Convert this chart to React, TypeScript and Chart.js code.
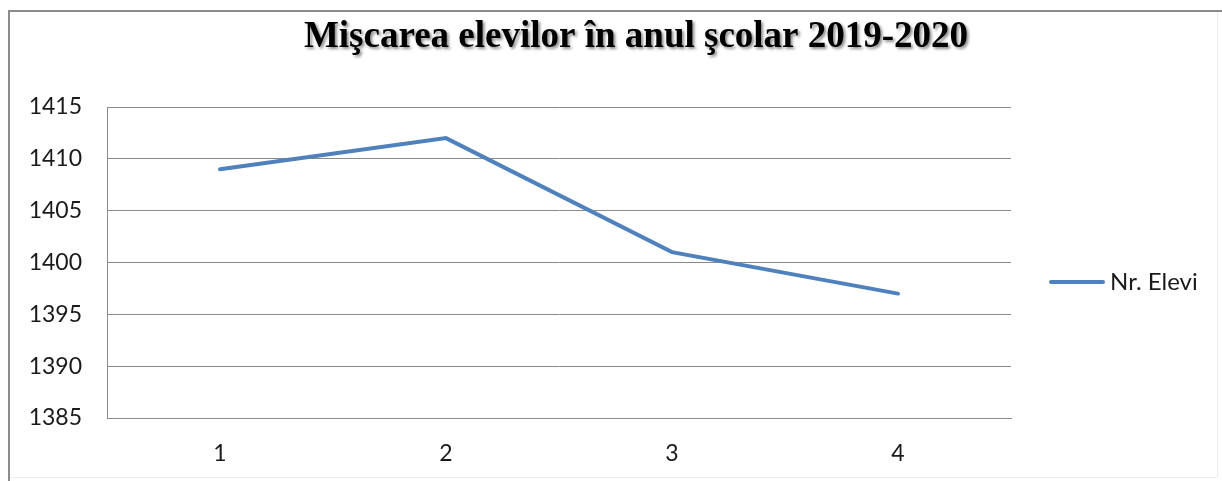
import React, { useEffect, useRef } from "react";
import { Chart, registerables } from "chart.js";

Chart.register(...registerables);

const TITLE = "Mişcarea elevilor în anul şcolar 2019-2020";
const categories = ["1", "2", "3", "4"];
const seriesLabel = "Nr. Elevi";
const seriesValues = [1409, 1412, 1401, 1397];
const yMin = 1385;
const yMax = 1415;
const yStep = 5;

const LINE_COLOR = "#4F81BD";
const GRID_COLOR = "#8a8a8a";
const TICK_FONT = "Lato";

const decorPlugin = {
  id: "decor",
  beforeDraw(chart: any) {
    const ctx = chart.ctx;
    ctx.save();
    ctx.fillStyle = "#ffffff";
    ctx.fillRect(0, 0, chart.width, chart.height);
    ctx.restore();
  },
  afterDraw(chart: any) {
    const ctx = chart.ctx;
    ctx.save();
    // frame
    ctx.fillStyle = "#8c8c8c";
    ctx.fillRect(8, 10, chart.width - 8, 2);
    ctx.fillRect(8, 10, 2, chart.height - 10);
    ctx.fillStyle = "#ececec";
    ctx.fillRect(1217, 12, 1, chart.height - 16);
    ctx.fillRect(10, 477, 1207, 1);
    // title
    ctx.font = "bold 37px 'Liberation Serif'";
    ctx.textAlign = "center";
    ctx.textBaseline = "middle";
    ctx.shadowColor = "rgba(0,0,0,0.45)";
    ctx.shadowBlur = 3;
    ctx.shadowOffsetX = 2;
    ctx.shadowOffsetY = 2;
    ctx.fillStyle = "#000000";
    ctx.fillText(TITLE, 636, 37);
    ctx.shadowColor = "transparent";
    // legend
    const ds = chart.data.datasets[0];
    const ly = 282;
    ctx.strokeStyle = ds.borderColor;
    ctx.lineWidth = 4;
    ctx.lineCap = "round";
    ctx.beginPath();
    ctx.moveTo(1051, ly);
    ctx.lineTo(1103, ly);
    ctx.stroke();
    ctx.font = `24px ${TICK_FONT}`;
    ctx.textAlign = "left";
    ctx.fillStyle = "#1a1a1a";
    ctx.fillText(ds.label, 1110, ly);
    ctx.restore();
  },
};

export default function App() {
  const ref = useRef<HTMLCanvasElement | null>(null);
  useEffect(() => {
    if (!ref.current) return;
    const chart = new Chart(ref.current, {
      type: "line",
      data: {
        labels: categories,
        datasets: [
          {
            label: seriesLabel,
            data: seriesValues,
            borderColor: LINE_COLOR,
            backgroundColor: LINE_COLOR,
            borderWidth: 4,
            pointRadius: 0,
            tension: 0,
            borderCapStyle: "round",
          },
        ],
      },
      options: {
        animation: false,
        responsive: false,
        devicePixelRatio: 1,
        layout: { padding: { top: 107, right: 211, bottom: 0, left: 0 } },
        plugins: {
          legend: { display: false },
          title: { display: false },
          tooltip: { enabled: false },
        },
        scales: {
          x: {
            offset: true,
            grid: { display: false, drawTicks: false },
            border: { display: true, color: GRID_COLOR, width: 1 },
            ticks: { color: "#1a1a1a", font: { family: TICK_FONT, size: 23 }, padding: 22 },
            afterFit(scale: any) {
              scale.height = 63;
            },
          },
          y: {
            min: yMin,
            max: yMax,
            grid: { color: GRID_COLOR, lineWidth: 1, drawTicks: false },
            border: { display: true, color: GRID_COLOR, width: 1 },
            ticks: {
              stepSize: yStep,
              color: "#1a1a1a",
              font: { family: TICK_FONT, size: 23 },
              padding: 25,
              callback: (v: any) => String(v),
            },
            afterFit(scale: any) {
              scale.width = 107;
            },
          },
        },
      },
      plugins: [decorPlugin],
    });
    return () => chart.destroy();
  }, []);
  return (
    <canvas
      ref={ref}
      width={1222}
      height={481}
      style={{ position: "absolute", left: 0, top: 0, width: 1222, height: 481 }}
    />
  );
}
